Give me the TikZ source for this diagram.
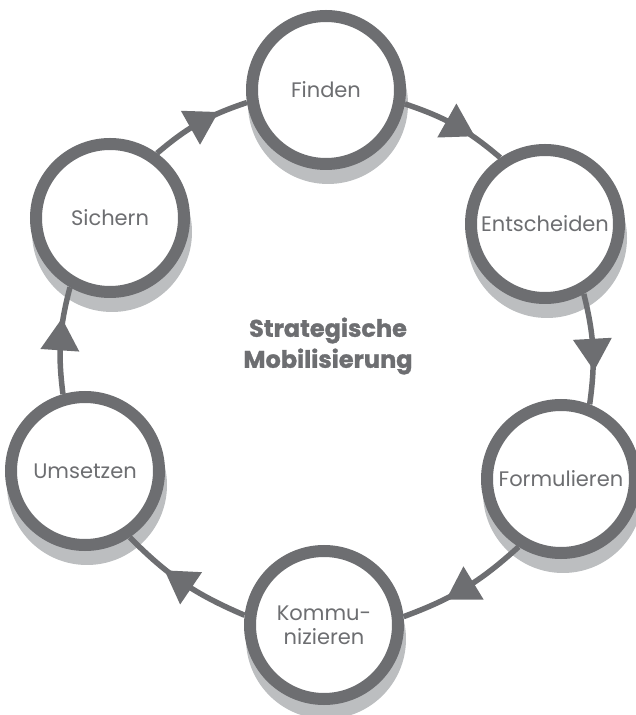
\documentclass[tikz,border=0pt]{standalone}
\usepackage{fontspec}
\setmainfont{Poppins}[BoldFeatures={FakeBold=1.2}]
\usetikzlibrary{decorations.markings}
\definecolor{ring}{HTML}{6D6E71}
\definecolor{shade}{HTML}{BCBEC0}
\pgfdeclarelayer{shadowlayer}
\pgfdeclarelayer{connlayer}
\pgfsetlayers{shadowlayer,connlayer,main}
\begin{document}
\begin{tikzpicture}[x=1pt,y=1pt,
  stage/.style={circle,draw=ring,line width=12pt,fill=white,minimum size=148pt,
    inner sep=0pt,text=ring,font=\fontsize{21}{24}\selectfont,align=center},
  flow/.style={draw=ring,line width=5.5pt,bend left=11,postaction={decorate},
    decoration={markings,mark=at position 0.5 with {\fill[ring] (22,0) -- (-10,19.5) -- (-10,-19.5) -- cycle;}}},
  shadowdisc/.style={fill=shade}]
\useasboundingbox (0,0) rectangle (636,715);
\clip (0,0) rectangle (636,715);
\node[stage] (fin) at (326,625) {Finden};
\node[stage] (ent) at (545,491) {Entscheiden};
\node[stage] (for) at (561,236) {Formulieren};
\node[stage] (kom) at (324,90) {Kommu-\\nizieren};
\node[stage] (ums) at (85,244) {Umsetzen};
\node[stage] (sic) at (110,497) {Sichern};
\node[text=ring,font=\fontsize{24}{31}\selectfont\bfseries,align=center] (ctr) at (328,369) {Strategische\\Mobilisierung};
\begin{pgfonlayer}{shadowlayer}
  \foreach \n in {fin,ent,for,kom,ums,sic}
    \fill[shadowdisc] ([shift={(2,-14)}]\n.center) circle[radius=80pt];
\end{pgfonlayer}
\begin{pgfonlayer}{connlayer}
  \draw[flow] (fin.-10.5) to (ent.124);
  \draw[flow] (ent.-61) to (for.69);
  \draw[flow] (for.-122.5) to (kom.6);
  \draw[flow] (kom.173) to (ums.-56);
  \draw[flow] (ums.106) to (sic.-120);
  \draw[flow] (sic.54) to (fin.189);
\end{pgfonlayer}
\end{tikzpicture}
\end{document}
